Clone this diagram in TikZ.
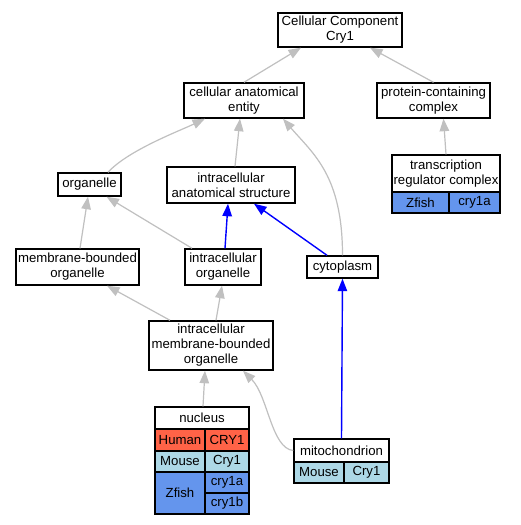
\documentclass[tikz,border=0pt]{standalone}
\usepackage{fontspec}
\setmainfont{Liberation Sans}
\usetikzlibrary{arrows.meta}
\definecolor{edgegray}{RGB}{192,192,192}
\definecolor{humanc}{RGB}{255,99,71}
\definecolor{mousec}{RGB}{173,216,230}
\definecolor{zfishc}{RGB}{100,149,237}
\tikzset{
  box/.style={draw=black, line width=1.4pt, inner sep=0pt, align=center, fill=white,
    font=\fontsize{13.2}{15}\selectfont},
  cell/.style={box},
  gedge/.style={draw=edgegray, line width=1.2pt, -{Triangle[length=12.5pt,width=9.5pt]}},
  bedge/.style={draw=blue, line width=1.4pt, -{Triangle[length=12.5pt,width=9.5pt]}},
}
\begin{document}
\begin{tikzpicture}[x=1pt,y=-1pt]
\useasboundingbox (0,0) rectangle (521,525);
\fill[white] (0,0) rectangle (521,525);
% nodes
\node[box, minimum width=124pt, minimum height=34pt] (cc) at (340,30) {Cellular Component\\Cry1};
\node[box, minimum width=120pt, minimum height=35pt] (cae) at (244,100.5) {cellular anatomical\\entity};
\node[box, minimum width=113pt, minimum height=35pt] (pcc) at (433.5,100.5) {protein-containing\\complex};
\node[box, minimum width=108pt, minimum height=37pt] (trc) at (446,173.5) {transcription\\regulator complex};
\node[cell, fill=zfishc, minimum width=57pt, minimum height=21pt] (trcz) at (420.5,202.5) {Zfish};
\node[cell, fill=zfishc, minimum width=51pt, minimum height=21pt] (trcg) at (474.5,202.5) {cry1a};
\node[box, minimum width=63pt, minimum height=23pt] (org) at (89.5,184.5) {organelle};
\node[box, minimum width=128pt, minimum height=36pt] (ias) at (231,185) {intracellular\\anatomical structure};
\node[box, minimum width=123pt, minimum height=36pt] (mbo) at (77.5,267) {membrane-bounded\\organelle};
\node[box, minimum width=76pt, minimum height=36pt] (io) at (223,267) {intracellular\\organelle};
\node[box, minimum width=71pt, minimum height=22pt] (cyto) at (342.5,267) {cytoplasm};
\node[box, minimum width=124pt, minimum height=49pt] (imbo) at (211,345.5) {intracellular\\membrane-bounded\\organelle};
% nucleus table
\node[box, minimum width=94pt, minimum height=22pt] (nuc) at (202,418) {nucleus};
\node[cell, fill=humanc, minimum width=50pt, minimum height=22pt] (nuch) at (180,440) {Human};
\node[cell, fill=humanc, minimum width=44pt, minimum height=22pt] (nuchg) at (227,440) {CRY1};
\node[cell, fill=mousec, minimum width=50pt, minimum height=21pt] (nucm) at (180,461.5) {Mouse};
\node[cell, fill=mousec, minimum width=44pt, minimum height=21pt] (nucmg) at (227,461.5) {Cry1};
\node[cell, fill=zfishc, minimum width=50pt, minimum height=42pt] (nucz) at (180,493) {Zfish};
\node[cell, fill=zfishc, minimum width=44pt, minimum height=21pt] (nucza) at (227,482.5) {cry1a};
\node[cell, fill=zfishc, minimum width=44pt, minimum height=21pt] (nuczb) at (227,503.5) {cry1b};
% mitochondrion table
\node[box, minimum width=95pt, minimum height=23pt] (mito) at (341.5,450.5) {mitochondrion};
\node[cell, fill=mousec, minimum width=50pt, minimum height=21pt] (mitom) at (319,472.5) {Mouse};
\node[cell, fill=mousec, minimum width=45pt, minimum height=21pt] (mitomg) at (366.5,472.5) {Cry1};
% edges
\draw[gedge] (cae.north) -- ([xshift=-39pt]cc.south);
\draw[gedge] (pcc.north) -- ([xshift=30pt]cc.south);
\draw[gedge] (trc.north) -- ([xshift=10pt]pcc.south);
\draw[gedge] ([xshift=18.5pt]org.north) .. controls +(20,-22) and +(-25,12) .. ([xshift=-39pt]cae.south);
\draw[gedge] ([xshift=4pt]ias.north) -- ([xshift=-4pt]cae.south);
\draw[gedge] (cyto.north) .. controls +(0,-80) and +(30,35) .. ([xshift=39pt]cae.south);
\draw[gedge] ([xshift=2.5pt]mbo.north) -- ([xshift=-1.5pt]org.south);
\draw[gedge] ([xshift=-31pt]io.north) -- ([xshift=17pt]org.south);
\draw[bedge] ([xshift=2pt]io.north) -- ([xshift=-3pt]ias.south);
\draw[bedge] ([xshift=-15.5pt]cyto.north) -- ([xshift=23pt]ias.south);
\draw[gedge] ([xshift=-41pt]imbo.north) -- ([xshift=29.5pt]mbo.south);
\draw[gedge] ([xshift=5pt]imbo.north) -- ([xshift=-1pt]io.south);
\draw[gedge] ([xshift=1pt]nuc.north) -- ([xshift=-6pt]imbo.south);
\draw[gedge] (mito.west) .. controls +(-22,-2) and +(25,25) .. ([xshift=32pt]imbo.south);
\draw[bedge] (mito.north) -- (cyto.south);
\end{tikzpicture}
\end{document}
